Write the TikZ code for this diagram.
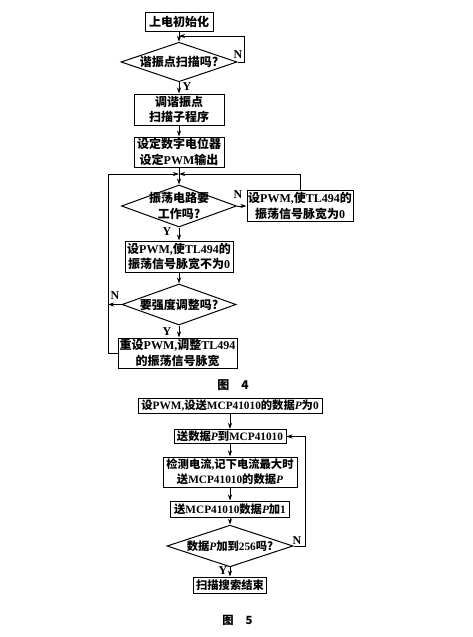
\documentclass[tikz,border=0pt]{standalone}
\usepackage{fontspec}
\setmainfont{Noto Sans CJK SC}
\newfontfamily\latn{Liberation Serif}
\newcommand{\en}[1]{{\latn\bfseries #1}}
\usetikzlibrary{shapes.geometric,arrows.meta}

\tikzset{
  box/.style={draw, line width=1pt, inner sep=1pt, align=center},
  test/.style={draw, diamond, line width=1pt, inner sep=0pt, aspect=2.8, align=center},
  arr/.style={line width=0.9pt, -{Stealth[length=6pt,width=4pt]}},
  lbl/.style={font=\latn\bfseries\fontsize{12}{12}\selectfont, inner sep=0pt},
  figa/.style={font=\fontsize{12}{15.5}\selectfont\bfseries},
  figb/.style={font=\fontsize{11.3}{15}\selectfont\bfseries},
}

\begin{document}
\begin{tikzpicture}[x=1pt, y=-1pt]
\useasboundingbox[fill=white] (0,0) rectangle (473,637);
% figure 4
\begin{scope}[figa]
\node[box, minimum width=68pt, minimum height=19pt] (init) at (179,22) {上电初始化};
\node[test, minimum width=116pt, minimum height=35pt] (scan) at (179,62) {谐振点扫描吗?};
\node[box, minimum width=90pt, minimum height=31pt] (sub) at (179,109.5) {调谐振点\\扫描子程序};
\node[box, minimum width=90pt, minimum height=30pt] (pot) at (179,152) {设定数字电位器\\设定\en{PWM}输出};
\node[test, inner sep=-5pt, aspect=2.74, minimum width=115pt, minimum height=42pt] (work) at (179,206) {振荡电路要\\工作吗?};
\node[box, inner xsep=0pt, minimum width=106pt, minimum height=31pt] (zero) at (300,206) {设\en{PWM,}使\en{TL494}的\\振荡信号脉宽为\en{0}};
\node[box, minimum width=108pt, minimum height=31pt] (nonzero) at (179,256.5) {设\en{PWM,}使\en{TL494}的\\振荡信号脉宽不为\en{0}};
\node[test, minimum width=114pt, minimum height=41pt] (adj) at (179,304.5) {要强度调整吗?};
\node[box, minimum width=119pt, minimum height=30pt] (reset) at (177.5,353) {重设\en{PWM,}调整\en{TL494}\\的振荡信号脉宽};
\coordinate (m1) at (179,36);
\coordinate (m2) at (179,174);
\coordinate (lft) at (108,174);
\draw[arr] (init) -- (scan);
\draw[arr] (scan.east) -- ++(7,0) |- (m1);
\draw[arr] (scan) -- (sub);
\draw[arr] (sub) -- (pot);
\draw[arr] (pot) -- (work);
\draw[arr] (work) -- (zero);
\draw[arr] (zero.north) |- (m2);
\draw[arr] (work) -- (nonzero);
\draw[arr] (nonzero) -- (adj);
\draw[arr] (adj.west) -- (adj.west -| lft);
\draw[arr] (adj.south) -- (adj.south |- reset.north);
\draw[arr] (reset.west) -| (lft) -- (m2);
\node[lbl] (n1) at (238,55) {N};
\node[lbl] (y1) at (187,87) {Y};
\node[lbl] (n2) at (238,195) {N};
\node[lbl] (y2) at (167,232) {Y};
\node[lbl] (n3) at (115,296) {N};
\node[lbl] (y3) at (167,332) {Y};
\node[inner sep=0pt] (cap4) at (233,385) {图\hspace{12pt}4};
\end{scope}
% figure 5
\begin{scope}[figb]
\node[box, minimum width=184pt, minimum height=15pt] (first) at (230,406) {设\en{PWM,}设送\en{MCP41010}的数据\en{\itshape P}为\en{0}};
\node[box, minimum width=112pt, minimum height=14pt] (send) at (230,436.5) {送数据\en{\itshape P}到\en{MCP41010}};
\node[box, minimum width=134pt, minimum height=30pt] (meas) at (230,472) {检测电流\en{,}记下电流最大时\\送\en{MCP41010}的数据\en{\itshape P}};
\node[box, minimum width=119pt, minimum height=16pt] (inc) at (230,509) {送\en{MCP41010}数据\en{\itshape P}加\en{1}};
\node[test, minimum width=126pt, minimum height=34pt] (full) at (230,546) {数据\en{\itshape P}加到\en{256}吗?};
\node[box, minimum width=73pt, minimum height=16pt] (done) at (230,585) {扫描搜索结束};
\draw[arr] (first) -- (send);
\draw[arr] (send) -- (meas);
\draw[arr] (meas) -- (inc);
\draw[arr] (inc) -- (full);
\draw[arr] (full.east) -- ++(12,0) |- (send.east);
\draw[arr] (full) -- (done);
\node[lbl] (n4) at (297,541) {N};
\node[lbl] (y4) at (223,571) {Y};
\node[inner sep=0pt] (cap5) at (237.5,620) {图\hspace{12pt}5};
\end{scope}
\end{tikzpicture}
\end{document}
